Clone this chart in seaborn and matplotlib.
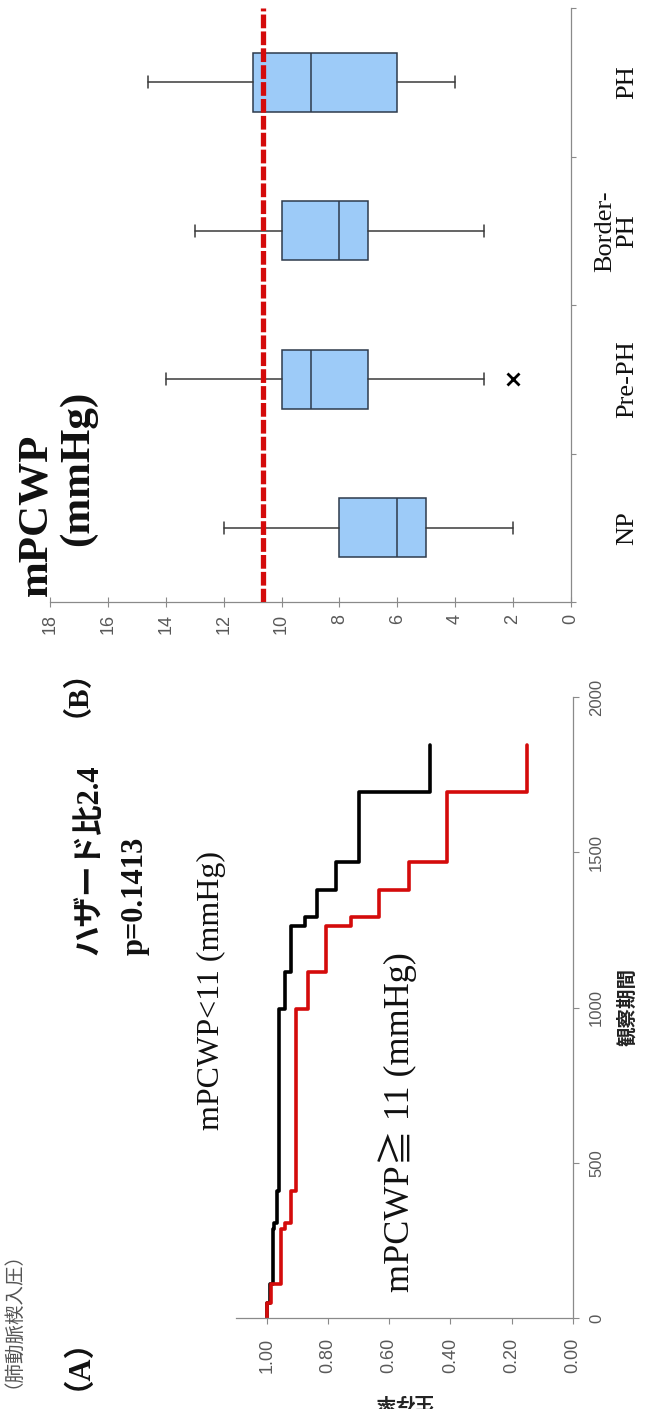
import matplotlib
matplotlib.use("Agg")
import matplotlib.pyplot as plt
import matplotlib.transforms as mtransforms
import seaborn as sns

# ---- Kaplan-Meier data (time in days, survival after each step) ----
km_time = [0, 49, 109, 286, 307, 410, 996, 1114, 1262, 1291, 1380, 1469, 1695, 1845]
surv_low = [1.000, 0.990, 0.980, 0.975, 0.967, 0.960, 0.940, 0.919, 0.875, 0.837,
            0.775, 0.697, 0.466, 0.466]
surv_high = [1.000, 0.985, 0.952, 0.941, 0.922, 0.903, 0.866, 0.807, 0.726, 0.633,
             0.534, 0.412, 0.151, 0.151]
time_ticks = [0, 500, 1000, 1500, 2000]
surv_ticks = [0.0, 0.2, 0.4, 0.6, 0.8, 1.0]

# ---- mPCWP box statistics by group ----
groups = ["NP", "Pre-PH", "Border-\nPH", "PH"]
whisker_low = [2, 3, 3, 4]
q1 = [5, 7, 7, 6]
median = [6, 9, 8, 9]
q3 = [8, 10, 10, 11]
whisker_high = [12, 14, 13, 14.6]
outliers = [[], [2], [], []]
pcwp_ticks = [0, 2, 4, 6, 8, 10, 12, 14, 16, 18]
pcwp_cutoff = 10.65

W, H = 652, 1409
sns.set_theme(style="white")
plt.rcParams["font.family"] = ["Liberation Sans", "DejaVu Sans"]

SERIF = ["Liberation Serif", "Noto Sans CJK JP", "DejaVu Sans"]
CJK = ["Noto Sans CJK JP", "DejaVu Sans"]
SANS = ["Liberation Sans", "DejaVu Sans"]
AXIS_GRAY = "#8a8a8a"
TICK_GRAY = "#595959"
INK = "#111111"

fig = plt.figure(figsize=(W / 100, H / 100), dpi=100)
fig.patch.set_facecolor("white")


def fx(px):
    return px / W


def fy(py):
    return 1 - py / H


def rect(left, top, right, bottom):
    return [fx(left), fy(bottom), (right - left) / W, (bottom - top) / H]


# ================= Panel A: survival curves =================
axA = fig.add_axes(rect(236, 697, 573, 1318))
sns.lineplot(x=surv_low, y=km_time, sort=False, estimator=None, ax=axA,
             color="black", linewidth=2.6, drawstyle="steps-pre")
sns.lineplot(x=surv_high, y=km_time, sort=False, estimator=None, ax=axA,
             color="#d40b0b", linewidth=2.6, drawstyle="steps-pre")
axA.set_xlim(1.1, 0)
axA.set_ylim(0, 2000)
axA.set_xlabel("")
axA.set_ylabel("")
for s in ("top", "left"):
    axA.spines[s].set_visible(False)
for s in ("bottom", "right"):
    axA.spines[s].set_color(AXIS_GRAY)
    axA.spines[s].set_linewidth(0.9)
axA.xaxis.set_ticks_position("bottom")
axA.yaxis.set_ticks_position("right")
axA.set_xticks(surv_ticks)
axA.set_xticklabels([f"{v:.2f}" for v in surv_ticks], rotation=90,
                    family=SANS, fontsize=13, color=TICK_GRAY)
axA.set_yticks(time_ticks)
axA.set_yticklabels([str(v) for v in time_ticks], rotation=90, va="center",
                    family=SANS, fontsize=12, color=TICK_GRAY)
axA.tick_params(axis="x", direction="out", length=4.5, width=0.8,
                color=AXIS_GRAY, pad=10)
axA.tick_params(axis="y", direction="out", length=4.5, width=0.8,
                color=AXIS_GRAY, pad=7)
axA.patch.set_alpha(0)

# ================= Panel B: mPCWP box plot =================
axB = fig.add_axes(rect(50, 8, 571, 602))
stats = []
for i, g in enumerate(groups):
    stats.append(dict(label=g, whislo=whisker_low[i], q1=q1[i], med=median[i],
                      q3=q3[i], whishi=whisker_high[i], fliers=outliers[i]))
box_kw = dict(positions=list(range(len(groups))), widths=0.4, patch_artist=True,
              showfliers=True, capwidths=0.08,
              boxprops=dict(facecolor="#9dcbf8", edgecolor="#2e3b4c", linewidth=1.1),
              medianprops=dict(color="#2e3b4c", linewidth=1.1),
              whiskerprops=dict(color="#3a3a3a", linewidth=1.1),
              capprops=dict(color="#3a3a3a", linewidth=1.1),
              flierprops=dict(marker="x", markeredgecolor="black",
                              markersize=8, markeredgewidth=2))
try:
    axB.bxp(stats, orientation="horizontal", **box_kw)
except TypeError:
    axB.bxp(stats, vert=False, **box_kw)

axB.axvline(pcwp_cutoff, color="#d40b0b", linewidth=3.8,
            dashes=(2.6, 0.6), solid_capstyle="butt", dash_capstyle="butt", zorder=5)
axB.set_xlim(18, 0)
axB.set_ylim(-0.5, len(groups) - 0.5)
for s in ("top", "left"):
    axB.spines[s].set_visible(False)
for s in ("bottom", "right"):
    axB.spines[s].set_color(AXIS_GRAY)
    axB.spines[s].set_linewidth(0.9)
axB.xaxis.set_ticks_position("bottom")
axB.yaxis.set_ticks_position("right")
axB.set_xticks(pcwp_ticks)
axB.set_xticklabels([str(v) for v in pcwp_ticks], rotation=90,
                    family=SANS, fontsize=13, color=TICK_GRAY)
axB.tick_params(axis="x", direction="inout", length=7, width=0.8,
                color=AXIS_GRAY, pad=5)
bounds = [i - 0.5 for i in range(len(groups) + 1)]
axB.set_yticks(bounds)
axB.set_yticklabels([""] * len(bounds))
axB.tick_params(axis="y", direction="out", length=3.5, width=0.8, color=AXIS_GRAY)
axB.patch.set_alpha(0)

# category names, right of the axis, last line aligned
cat_tr = mtransforms.blended_transform_factory(axB.transAxes, axB.transData)
for i, g in enumerate(groups):
    axB.text(1.12, i, g, transform=cat_tr, rotation=90, rotation_mode="anchor",
             ha="center", va="baseline", family=SERIF, fontsize=19,
             color=INK, linespacing=1.0)


# ================= Figure texts =================
def vtext(x, y, s, ha="left", **kw):
    fig.text(fx(x), fy(y), s, rotation=90, rotation_mode="anchor",
             ha=ha, va="center", **kw)


vtext(63, 1349, "（A）", ha="center", family=SERIF, fontsize=22,
      fontweight="bold", color=INK)
vtext(62, 678, "（B）", ha="center", family=SERIF, fontsize=21,
      fontweight="bold", color=INK)
vtext(90, 955, "ハザード比2.4", family=SERIF, fontsize=22,
      fontweight="bold", color=INK)
vtext(135, 955, "p=0.1413", family=SERIF, fontsize=22,
      fontweight="bold", color=INK)
vtext(211, 1130, "mPCWP<11 (mmHg)", family=SERIF, fontsize=23, color=INK)
vtext(398, 1292, "mPCWP≧ 11 (mmHg)", family=SERIF, fontsize=26, color=INK)
vtext(36, 596, "mPCWP", family=SERIF, fontsize=31, fontweight="bold", color=INK)
vtext(78, 546, "(mmHg)", family=SERIF, fontsize=31, fontweight="bold", color=INK)
vtext(627, 1007, "観察期間", ha="center", family=CJK, fontsize=14,
      fontweight="bold", color="#222222")
vtext(3, 1310, "（肺動脈楔入圧）", ha="center", family=CJK, fontsize=14,
      color="#555555")
fig.text(fx(404), fy(1402), "生存率", rotation=180, ha="center", va="center",
         family=CJK, fontsize=14, fontweight="bold", color="#222222")

fig.savefig("out.png", dpi=100, facecolor="white")
